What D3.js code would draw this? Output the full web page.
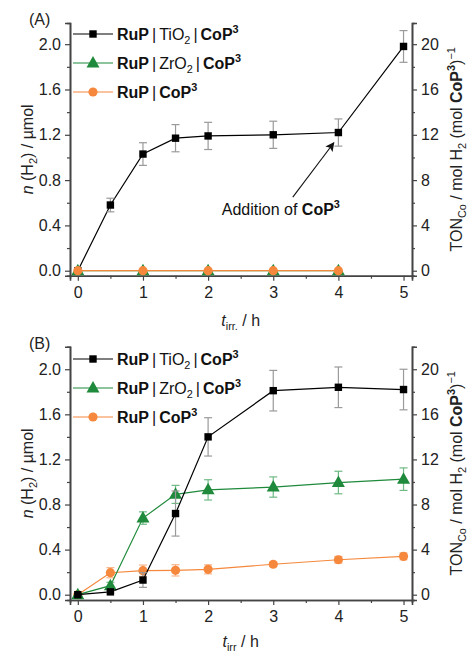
<!DOCTYPE html>
<html><head><meta charset="utf-8">
<script src="https://cdn.jsdelivr.net/npm/d3@7"></script>
<style>body{margin:0;background:#fff}svg{display:block;font-family:"Liberation Sans",Arial,sans-serif}</style>
</head><body>
<svg id="c" width="470" height="655"></svg>
<script>
// ---- data ----
const times = [0, 0.5, 1, 1.5, 2, 3, 4, 5];
// Panel A
const aTiO2 = [0, 0.58, 1.03, 1.17, 1.19, 1.20, 1.22, 1.98];
const aTiO2Err = [0, 0.06, 0.10, 0.12, 0.12, 0.12, 0.12, 0.14];
const aTimesZero = [0, 1, 2, 3, 4];
const aZrO2 = [0, 0, 0, 0, 0];
const aCoP = [0, 0, 0, 0, 0];
// Panel B
const bTiO2 = [0, 0.025, 0.13, 0.72, 1.40, 1.81, 1.84, 1.82];
const bTiO2Err = [0, 0.01, 0.065, 0.20, 0.17, 0.18, 0.18, 0.18];
const bZrO2 = [0, 0.08, 0.68, 0.89, 0.93, 0.955, 0.995, 1.025];
const bZrO2Err = [0, 0.03, 0.055, 0.08, 0.09, 0.09, 0.10, 0.10];
const bCoP = [0, 0.195, 0.213, 0.216, 0.225, 0.27, 0.31, 0.34];
const bCoPErr = [0, 0.045, 0.05, 0.05, 0.04, 0.02, 0.03, 0.03];
const leftTicks = [0, 0.4, 0.8, 1.2, 1.6, 2.0];
const rightTicks = [0, 4, 8, 12, 16, 20];
const xTicks = [0, 1, 2, 3, 4, 5];

const BLACK = "#000", GREEN = "#1f8a3b", ORANGE = "#f5883c";
const svg = d3.select("#c");

function rich(sel, segs, size) {
  let shift = 0;
  segs.forEach(s => {
    const t = sel.append("tspan").text(s.t);
    let fs = size, target = 0;
    if (s.sub) { fs = size * 0.68; target = size * 0.28; }
    if (s.sup) { fs = size * 0.68; target = -size * 0.42; }
    t.attr("font-size", fs);
    if (s.b) t.attr("font-weight", "bold");
    if (s.i) t.attr("font-style", "italic");
    if (s.dx) t.attr("dx", s.dx);
    if (target !== shift) { t.attr("dy", target - shift); shift = target; }
  });
}

function panel(cfg) {
  const x = d3.scaleLinear().domain([-0.12, 5.13]).range([70, 412]);
  const y = d3.scaleLinear().domain(cfg.yDom).range([cfg.bottom, cfg.top]);
  const y2 = d3.scaleLinear().domain(cfg.yDom.map(v => v * 10)).range([cfg.bottom, cfg.top]);
  const g = svg.append("g");
  const axCol = "#444";
  g.append("g").attr("transform", `translate(${x.range()[0]},0)`)
    .call(d3.axisLeft(y).tickValues(leftTicks).tickFormat(d3.format(".1f")).tickSizeOuter(0).tickSize(5).tickPadding(4));
  g.append("g").attr("transform", `translate(${x.range()[0]},0)`)
    .call(d3.axisLeft(y).tickValues([0.2, 0.6, 1.0, 1.4, 1.8]).tickFormat("").tickSizeOuter(0).tickSize(3));
  g.append("g").attr("transform", `translate(${x.range()[1]},0)`)
    .call(d3.axisRight(y2).tickValues(rightTicks).tickFormat(d3.format("d")).tickSizeOuter(0).tickSize(5).tickPadding(4));
  g.append("g").attr("transform", `translate(${x.range()[1]},0)`)
    .call(d3.axisRight(y2).tickValues([2, 6, 10, 14, 18]).tickFormat("").tickSizeOuter(0).tickSize(3));
  g.append("g").attr("transform", `translate(0,${cfg.bottom})`)
    .call(d3.axisBottom(x).tickValues(xTicks).tickFormat(d3.format("d")).tickSizeOuter(0).tickSize(5).tickPadding(6));
  g.append("g").attr("transform", `translate(0,${cfg.bottom})`)
    .call(d3.axisBottom(x).tickValues([0.5, 1.5, 2.5, 3.5, 4.5]).tickFormat("").tickSizeOuter(0).tickSize(3));
  g.selectAll(".domain").attr("stroke", axCol).attr("stroke-width", 1.6);
  g.selectAll(".tick line").attr("stroke", axCol).attr("stroke-width", 1.2);
  g.selectAll(".tick text").attr("font-size", 16).attr("fill", "#222").attr("font-family", "Liberation Sans, Arial, sans-serif");

  const xt = g.append("text").attr("x", x(2.5)).attr("y", cfg.bottom + cfg.xtOff).attr("text-anchor", "middle").attr("fill", "#222");
  rich(xt, [{t: "t", i: true}, {t: cfg.irr, sub: true}, {t: " / h"}], 16);
  const yt = g.append("text").attr("transform", `translate(33,${(cfg.top + cfg.bottom) / 2}) rotate(-90)`).attr("text-anchor", "middle").attr("fill", "#222");
  rich(yt, [{t: "n", i: true}, {t: " (H"}, {t: "2", sub: true}, {t: ") / µmol"}], 16);
  const rt = g.append("text").attr("transform", `translate(462,${(cfg.top + cfg.bottom) / 2}) rotate(-90)`).attr("text-anchor", "middle").attr("fill", "#222");
  rich(rt, [{t: "TON"}, {t: "Co", sub: true}, {t: " / mol H"}, {t: "2", sub: true}, {t: " (mol "}, {t: "CoP", b: true}, {t: "3", sup: true, b: true}, {t: ")"}, {t: "−1", sup: true}], 16);

  g.append("text").attr("x", 29).attr("y", cfg.top + 2).attr("font-size", 16).attr("fill", "#222").text(cfg.label);

  const line = d3.line().x(d => x(d[0])).y(d => y(d[1]));
  function series(xs, ys, errs, col, errCol, shape) {
    const pts = xs.map((t, i) => [t, ys[i], errs ? errs[i] : 0]);
    g.append("path").datum(pts).attr("d", line).attr("fill", "none").attr("stroke", col).attr("stroke-width", 1.2);
    if (errs) {
      const eg = g.append("g").attr("stroke", errCol).attr("stroke-width", 1.2);
      pts.filter(p => p[2] > 0).forEach(p => {
        const cx = x(p[0]), y1 = y(p[1] + p[2]), y0 = y(p[1] - p[2]);
        eg.append("line").attr("x1", cx).attr("x2", cx).attr("y1", y1).attr("y2", y0);
        eg.append("line").attr("x1", cx - 4).attr("x2", cx + 4).attr("y1", y1).attr("y2", y1);
        eg.append("line").attr("x1", cx - 4).attr("x2", cx + 4).attr("y1", y0).attr("y2", y0);
      });
    }
    pts.forEach(p => marker(g, x(p[0]), y(p[1]), shape, col));
  }
  return {g, x, y, series};
}

function marker(g, cx, cy, shape, col) {
  if (shape === "square") g.append("rect").attr("x", cx - 3.7).attr("y", cy - 3.7).attr("width", 7.4).attr("height", 7.4).attr("fill", col);
  else if (shape === "tri") g.append("path").attr("d", `M${cx},${cy - 7}L${cx + 6.5},${cy + 4.5}L${cx - 6.5},${cy + 4.5}Z`).attr("fill", col);
  else g.append("circle").attr("cx", cx).attr("cy", cy).attr("r", 4.6).attr("fill", col);
}

function legend(g, top, entries) {
  entries.forEach((e, i) => {
    const yy = top + i * 29;
    g.append("line").attr("x1", 73).attr("x2", 113).attr("y1", yy).attr("y2", yy).attr("stroke", e.col).attr("stroke-width", 1.2);
    marker(g, 93, yy, e.shape, e.col);
    const t = g.append("text").attr("x", 117).attr("y", yy + 6).attr("fill", "#111");
    rich(t, e.segs, 16);
  });
}
const legSegs = [
  [{t: "RuP", b: true}, {t: "|", dx: 3}, {t: "TiO", dx: 3}, {t: "2", sub: true}, {t: "|", dx: 3}, {t: "CoP", b: true, dx: 3}, {t: "3", sup: true, b: true}],
  [{t: "RuP", b: true}, {t: "|", dx: 3}, {t: "ZrO", dx: 3}, {t: "2", sub: true}, {t: "|", dx: 3}, {t: "CoP", b: true, dx: 3}, {t: "3", sup: true, b: true}],
  [{t: "RuP", b: true}, {t: "|", dx: 3}, {t: "CoP", b: true, dx: 3}, {t: "3", sup: true, b: true}]
];

// Panel A
const A = panel({top: 23, bottom: 275.7, yDom: [-0.044, 2.187], label: "(A)", irr: "irr.", xtOff: 50});
A.series(times, aTiO2, aTiO2Err, BLACK, "#9a9a9a", "square");
A.series(aTimesZero, aZrO2, null, GREEN, GREEN, "tri");
A.series(aTimesZero, aCoP, null, ORANGE, ORANGE, "circle");
legend(A.g, 34, [
  {col: BLACK, shape: "square", segs: legSegs[0]},
  {col: GREEN, shape: "tri", segs: legSegs[1]},
  {col: ORANGE, shape: "circle", segs: legSegs[2]}
]);
svg.append("defs").append("marker").attr("id", "ah").attr("viewBox", "0 0 10 10").attr("refX", 9).attr("refY", 5)
  .attr("markerWidth", 9).attr("markerHeight", 9).attr("markerUnits", "userSpaceOnUse").attr("orient", "auto")
  .append("path").attr("d", "M0,0L10,5L0,10L2,5Z").attr("fill", "#111");
A.g.append("line").attr("x1", A.x(3.3)).attr("y1", A.y(0.65)).attr("x2", A.x(3.93)).attr("y2", A.y(1.13))
  .attr("stroke", "#111").attr("stroke-width", 1.1).attr("marker-end", "url(#ah)");
const at = A.g.append("text").attr("x", A.x(2.21)).attr("y", A.y(0.49)).attr("fill", "#111");
rich(at, [{t: "Addition of "}, {t: "CoP", b: true}, {t: "3", sup: true, b: true}], 16);

// Panel B
const B = panel({top: 346.7, bottom: 600, yDom: [-0.047, 2.2], label: "(B)", irr: "irr", xtOff: 47});
B.series(times, bCoP, bCoPErr, ORANGE, "#f8b48a", "circle");
B.series(times, bZrO2, bZrO2Err, GREEN, "#6fba85", "tri");
B.series(times, bTiO2, bTiO2Err, BLACK, "#9a9a9a", "square");
legend(B.g, 359, [
  {col: BLACK, shape: "square", segs: legSegs[0]},
  {col: GREEN, shape: "tri", segs: legSegs[1]},
  {col: ORANGE, shape: "circle", segs: legSegs[2]}
]);
</script>
</body></html>
